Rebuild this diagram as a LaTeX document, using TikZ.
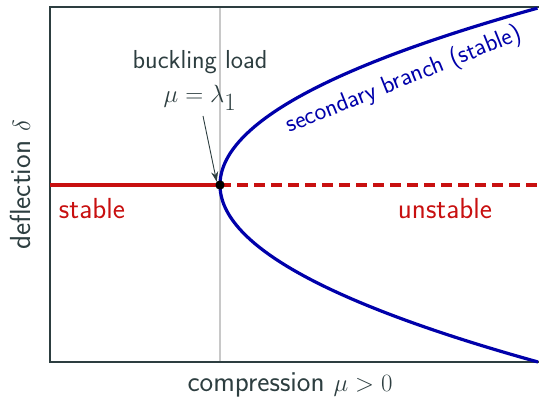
\documentclass[tikz,border=0pt]{standalone}
\usetikzlibrary{arrows.meta}
\definecolor{axcol}{RGB}{45,62,64}
\definecolor{redc}{RGB}{200,16,16}
\definecolor{bluec}{RGB}{0,0,170}
\definecolor{graylc}{RGB}{200,200,200}
\tikzset{
  axis/.style={draw=axcol, line width=2.4pt},
  redline/.style={draw=redc, line width=3.2pt},
  reddash/.style={draw=redc, line width=3.2pt, dash pattern=on 11pt off 6pt},
  branch/.style={draw=bluec, line width=3.2pt},
  lbl/.style={text=axcol, font=\sffamily\fontsize{29}{33}\selectfont, inner sep=0pt},
  redlbl/.style={text=redc, font=\sffamily\fontsize{29}{33}\selectfont, inner sep=0pt},
}
\begin{document}
\begin{tikzpicture}[x=1pt,y=1pt]
\useasboundingbox (0,0) rectangle (539,401);
% guide line
\draw[graylc, line width=1.2pt] (220,394) -- (220,39);
% frame
\draw[axis] (539,394) -- (50,394) -- (50,39) -- (539,39);
% branches
\draw[branch] plot[domain=-1:1, samples=120, smooth] ({220+318*(\x)^2},{216+177*\x});
% trivial branch
\coordinate (L) at (50,216);
\coordinate (R) at (539,216);
\node[circle, fill=black, inner sep=0pt, minimum size=9pt] (bp) at (220,216) {};
\draw[redline] (L) -- (bp.center);
\draw[reddash] (bp.center) -- (R);
\node[circle, fill=black, inner sep=0pt, minimum size=9pt] at (220,216) {};
% labels
\node[lbl, font=\sffamily\fontsize{26}{30}\selectfont] (bl) at (200,339) {buckling load};
\node[lbl, font=\fontsize{33}{36}\selectfont] (mu) at (200,303) {$\mu=\lambda_1$};
\coordinate (as) at (203,285);
\draw[-{Stealth[length=10pt,width=7pt]}, axcol, line width=0.9pt] (as) -- (bp.north west);
\node[redlbl] (st) at (92,192) {stable};
\node[redlbl] (un) at (445,192) {unstable};
\node[text=bluec, font=\sffamily\fontsize{25}{29}\selectfont, inner sep=0pt, rotate=22] (sb) at (404,321) {secondary branch (stable)};
\node[lbl, rotate=90] (yl) at (20,216) {deflection $\delta$};
\node[lbl] (xl) at (290,16) {compression $\mu>0$};
\end{tikzpicture}
\end{document}
